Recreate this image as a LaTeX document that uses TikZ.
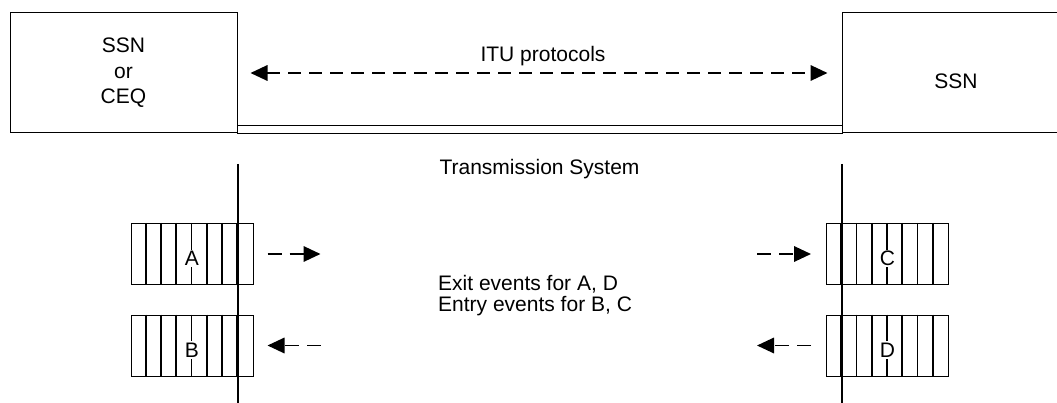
\documentclass[tikz,border=0pt]{standalone}
\usepackage{fontspec}
\setmainfont{Liberation Sans}
\usetikzlibrary{positioning, arrows.meta}

\begin{document}
\begin{tikzpicture}[
    x=1pt, y=-1pt,
    txt/.style={font=\fontsize{21}{25.5}\selectfont, inner sep=0pt},
    box/.style={rectangle, draw, line width=1pt, inner sep=0pt, align=center, txt},
    queue/.style={rectangle, draw, line width=1pt, minimum width=122pt, minimum height=61pt, inner sep=0pt},
    cell/.style={line width=1.6pt},
    wire/.style={line width=2pt},
    tip/.tip={Triangle[length=17pt, width=15.5pt]},
    evt/.style={-tip, line width=1.8pt, dash pattern=on 14pt off 8pt},
    itu/.style={tip-tip, line width=1.8pt, dash pattern=on 13pt off 8pt}
]
\useasboundingbox (0,0) rectangle (1057,403);

% end systems
\node[box, minimum width=227pt, minimum height=120pt] (ssnl) at (123.5,73) {SSN\\or\\CEQ};
\node[box, minimum width=228pt, minimum height=120pt] (ssnr) at (956,73) {};
\node[txt] (ssnrlbl) at (956,81) {SSN};
\node[draw, line width=1pt, minimum width=605pt, minimum height=7.5pt, inner sep=0pt] (trans) at (539.5,129.7) {};

\node[txt, anchor=north] (itulbl) at (543,46) {ITU protocols};
\coordinate[right=13pt of ssnl] (itul);
\coordinate[left=14pt of ssnr] (itur);
\draw[itu] (itul) -- (itur);

\node[txt, below=25.5pt of trans] (translbl) {Transmission System};

% interface lines
\coordinate (wl1) at (238,164);
\coordinate (wl2) at (238,403);
\coordinate (wr1) at (842,164);
\coordinate (wr2) at (842,403);

% queues
\node[queue] (qA) at (192,254) {};
\node[queue] (qB) at (192,345.5) {};
\node[queue] (qC) at (887.5,254) {};
\node[queue] (qD) at (887.5,345.5) {};
\foreach \q in {qA,qB,qC,qD}
  \foreach \i in {1,...,7}
    \draw[cell] ([xshift=\i*15.25pt]\q.north west) -- ([xshift=\i*15.25pt]\q.south west);
\foreach \q/\t in {qA/A,qB/B,qC/C,qD/D}
  \node[txt, fill=white, inner sep=1.5pt] (\q lbl) at ([yshift=-4.5pt]\q.center) {\t};

\draw[wire] (wl1) -- (wl2);
\draw[wire] (wr1) -- (wr2);

% events
\coordinate[right=14pt of qA] (a1);
\coordinate[right=53pt of a1] (a2);
\coordinate[right=14pt of qB] (b1);
\coordinate[right=53pt of b1] (b2);
\coordinate[left=15pt of qC] (c2);
\coordinate[left=54pt of c2] (c1);
\coordinate[left=15pt of qD] (d2);
\coordinate[left=54pt of d2] (d1);
\draw[evt] (a1) -- (a2);
\draw[evt] (b2) -- (b1);
\draw[evt] (c1) -- (c2);
\draw[evt] (d2) -- (d1);

\node[txt, anchor=north west, align=left, font=\fontsize{21}{21.5}\selectfont] (evtlbl) at (438,275) {Exit events for A, D\\Entry events for B, C};
\end{tikzpicture}
\end{document}
